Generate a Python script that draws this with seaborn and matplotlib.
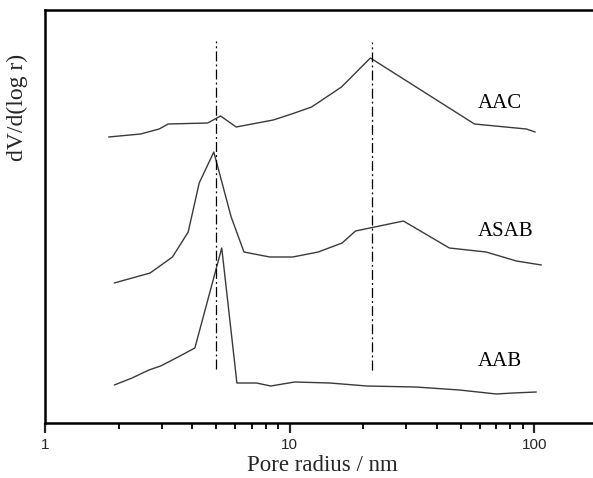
import numpy as np
import pandas as pd
import matplotlib
matplotlib.use("Agg")
import matplotlib.pyplot as plt
import seaborn as sns
from matplotlib.ticker import FixedLocator, NullFormatter, FixedFormatter

# ---- data (arbitrary offset units) ----
aac_r = [1.82, 2.46, 2.93, 3.19, 4.63, 5.22, 6.05, 8.57, 10.2, 12.3, 16.3, 21.4, 57.0, 92.9, 101]
aac_v = [286, 289, 294, 299, 300, 307, 296, 303, 309, 316, 336, 365, 299, 294, 291]

asab_r = [1.92, 2.69, 3.32, 3.85, 4.27, 4.90, 5.77, 6.51, 8.30, 10.3, 13.1, 16.4, 18.6, 29.2, 45.0, 63.6, 84.6, 107]
asab_v = [140, 150, 166, 191, 240, 271, 206, 171, 166, 166, 171, 180, 192, 202, 175, 171, 162, 158]

aab_r = [1.92, 2.27, 2.66, 2.97, 3.50, 4.10, 5.28, 6.09, 7.31, 8.38, 10.5, 14.6, 20.7, 32.8, 49.5, 70.0, 82.0, 102]
aab_v = [38, 45, 53, 57, 66, 75, 175, 40, 40, 37, 41, 40, 37, 36, 33, 29, 30, 31]

ref_x = [5.0, 21.8]
ref_ymin = [54, 53]
ref_ymax = [382, 381]

label_names = ["AAC", "ASAB", "AAB"]
label_x = [58.8, 58.8, 58.8]
label_y = [320, 191, 61]

tick_vals = [1, 10, 100]
tick_labels = ["1", "10", "100"]

# ---- style ----
sns.set_style("ticks")
plt.rcParams['font.family'] = ['Liberation Serif', 'DejaVu Serif']

fig = plt.figure(figsize=(5.93, 4.78), dpi=100)
ax = fig.add_axes([45/593, 55/478, 1 - 45/593 + 0.01, 413/478])

curve_color = "#3a3a3a"
for r, v in [(aac_r, aac_v), (asab_r, asab_v), (aab_r, aab_v)]:
    df = pd.DataFrame({"r": r, "v": v})
    sns.lineplot(data=df, x="r", y="v", ax=ax, color=curve_color, lw=1.0, sort=False,
                 estimator=None)

for x, y0, y1 in zip(ref_x, ref_ymin, ref_ymax):
    ax.plot([x, x], [y0, y1], color="black", lw=0.9, ls=(0, (8, 2.5, 1.5, 2.5)))

for name, x, y in zip(label_names, label_x, label_y):
    ax.text(x, y, name, fontsize=15, ha="left", va="center", color="black")

ax.set_xscale("log")
ax.set_xlim(1, 184)
ax.set_ylim(0, 413)

minor_pos = [m * d for d in (1, 10, 100) for m in range(2, 10) if m * d < 184]
ax.xaxis.set_major_locator(FixedLocator(tick_vals))
ax.xaxis.set_major_formatter(FixedFormatter(tick_labels))
ax.xaxis.set_minor_locator(FixedLocator(minor_pos))
ax.xaxis.set_minor_formatter(NullFormatter())
ax.tick_params(axis="x", which="major", direction="out", length=7, width=1.6,
               labelsize=11, pad=4, bottom=True)
ax.tick_params(axis="x", which="minor", direction="out", length=4.5, width=1.3,
               bottom=True, color="black")
for lab in ax.get_xticklabels():
    lab.set_family(["Liberation Sans", "DejaVu Sans"])
ax.set_yticks([])

for s in ["left", "top", "bottom"]:
    ax.spines[s].set_linewidth(1.8)
    ax.spines[s].set_color("black")
ax.spines["right"].set_visible(False)

ax.set_xlabel("Pore radius / nm", fontsize=16.5, labelpad=2)
ax.set_ylabel("dV/d(log r)", fontsize=17)
ax.yaxis.set_label_coords(-0.03, 0.765)

fig.savefig("out.png", dpi=100)
